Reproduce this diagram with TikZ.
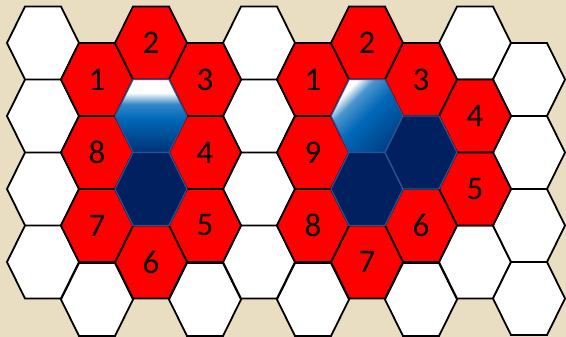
\documentclass[tikz,border=0pt]{standalone}
\usepackage{fontspec}
\setsansfont{Carlito}
\usetikzlibrary{calc}
\definecolor{boardbg}{HTML}{E9DDC2}
\definecolor{cellred}{HTML}{FF0000}
\definecolor{cellnavy}{HTML}{002060}
\definecolor{cellblue}{HTML}{0068B8}
\definecolor{celledge}{HTML}{2F528F}
\pgfdeclareverticalshading{glossup}{100bp}{color(0bp)=(cellnavy); color(25bp)=(cellnavy!75!cellblue); color(48bp)=(cellblue); color(58bp)=(cellblue!80!white); color(66bp)=(white); color(100bp)=(white)}
\pgfdeclareverticalshading{glossside}{100bp}{color(0bp)=(cellnavy); color(25bp)=(cellnavy!55!cellblue); color(50bp)=(cellblue); color(64bp)=(cellblue!70!white); color(72bp)=(white); color(100bp)=(white)}

\begin{document}
\begin{tikzpicture}[x=1pt, y=-1pt,
    hex/.style={insert path={++(-36,0) -- ++(18,-36.5) -- ++(36,0) -- ++(18,36.5) -- ++(-18,36.5) -- ++(-36,0) -- cycle}},
    blank/.style={draw=black, fill=white, line width=1.8pt},
    taken/.style={draw=black, fill=cellred, line width=1.8pt},
    stone/.style={draw=celledge, fill=cellnavy, line width=1.3pt},
    shine/.style={draw=celledge, shade, line width=1.3pt},
    every node/.style={font=\sffamily\fontsize{33}{33}\selectfont, inner sep=0pt}
]
    \useasboundingbox (0,0) rectangle (566,337);
    \fill[boardbg] (0,0) rectangle (566,337);

    % empty cells
    \draw[blank] (43,43) [hex] (43,116) [hex] (43,189) [hex] (43,262) [hex];
    \draw[blank] (97,299.5) [hex] (205,299.5) [hex];
    \draw[blank] (259,43) [hex] (259,116) [hex] (259,189) [hex] (259,262) [hex];
    \draw[blank] (313,299.5) [hex] (421,299.5) [hex];
    \draw[blank] (475,43) [hex] (475,262) [hex];
    \draw[blank] (529,79.5) [hex] (529,152.5) [hex] (529,225.5) [hex] (529,298.5) [hex];

    % left ring
    \draw[taken] (97,79.5) node (l1) {1} [hex];
    \draw[taken] (151,43) node (l2) {2} [hex];
    \draw[taken] (205,79.5) node (l3) {3} [hex];
    \draw[taken] (205,152.5) node (l4) {4} [hex];
    \draw[taken] (205,225.5) node (l5) {5} [hex];
    \draw[taken] (151,262) node (l6) {6} [hex];
    \draw[taken] (97,225.5) node (l7) {7} [hex];
    \draw[taken] (97,152.5) node (l8) {8} [hex];
    \path[shine, shading=glossup] (151,116) [hex];
    \draw[stone] (151,189) [hex];

    % right ring
    \draw[taken] (313,79.5) node (r1) {1} [hex];
    \draw[taken] (367,43) node (r2) {2} [hex];
    \draw[taken] (421,79.5) node (r3) {3} [hex];
    \draw[taken] (475,116) node (r4) {4} [hex];
    \draw[taken] (475,189) node (r5) {5} [hex];
    \draw[taken] (421,225.5) node (r6) {6} [hex];
    \draw[taken] (367,262) node (r7) {7} [hex];
    \draw[taken] (313,225.5) node (r8) {8} [hex];
    \draw[taken] (313,152.5) node (r9) {9} [hex];
    \path[shine, shading=glossside, shading angle=45] (367,116) [hex];
    \draw[stone] (367,189) [hex];
    \draw[stone] (421,152.5) [hex];
\end{tikzpicture}
\end{document}
